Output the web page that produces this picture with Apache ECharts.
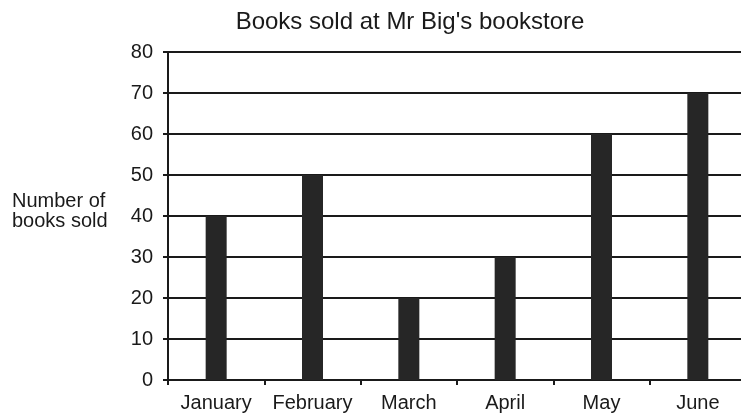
<!DOCTYPE html>
<html>
<head>
<meta charset="utf-8">
<script src="https://cdn.jsdelivr.net/npm/echarts@6/dist/echarts.min.js"></script>
<style>html,body{margin:0;padding:0;background:#fff;overflow:hidden;}#c{width:746px;height:419px;}</style>
</head>
<body>
<div id="c"></div>
<script>
const categories = ['January', 'February', 'March', 'April', 'May', 'June'];
const booksSold = [40, 50, 20, 30, 60, 70];
const titleText = "Books sold at Mr Big's bookstore";
const yAxisTitle = 'Number of\nbooks sold';

const chart = echarts.init(document.getElementById('c'), null, {renderer: 'canvas'});
const font = '"Liberation Sans", Arial, sans-serif';
chart.setOption({
  backgroundColor: '#fff',
  animation: false,
  title: {
    text: titleText, left: 405, top: 5, textAlign: 'center',
    textStyle: {fontFamily: font, fontSize: 24, fontWeight: 'normal', color: '#1a1a1a'}
  },
  graphic: [{
    type: 'text', left: 12, top: 191,
    style: {text: yAxisTitle, fontFamily: font, fontSize: 20, fill: '#1a1a1a', lineHeight: 20, textAlign: 'left'}
  }],
  grid: {left: 168, right: 0, top: 52, bottom: 39, containLabel: false},
  xAxis: {
    type: 'category', data: categories, boundaryGap: true,
    axisLine: {show: true, lineStyle: {color: '#1a1a1a', width: 2}},
    axisTick: {show: true, alignWithLabel: false, length: 5, lineStyle: {color: '#1a1a1a', width: 2}},
    axisLabel: {interval: 0, fontFamily: font, fontSize: 20, color: '#1a1a1a', margin: 13}
  },
  yAxis: {
    type: 'value', min: 0, max: 80, interval: 10,
    axisLine: {show: true, lineStyle: {color: '#1a1a1a', width: 2}},
    axisTick: {show: true, length: 5, lineStyle: {color: '#1a1a1a', width: 2}},
    axisLabel: {fontFamily: font, fontSize: 20, color: '#1a1a1a', margin: 15},
    splitLine: {show: true, lineStyle: {color: '#1a1a1a', width: 2}}
  },
  series: [{
    type: 'bar', data: booksSold, barWidth: 21,
    itemStyle: {color: '#262626'}
  }]
});
</script>
</body>
</html>
